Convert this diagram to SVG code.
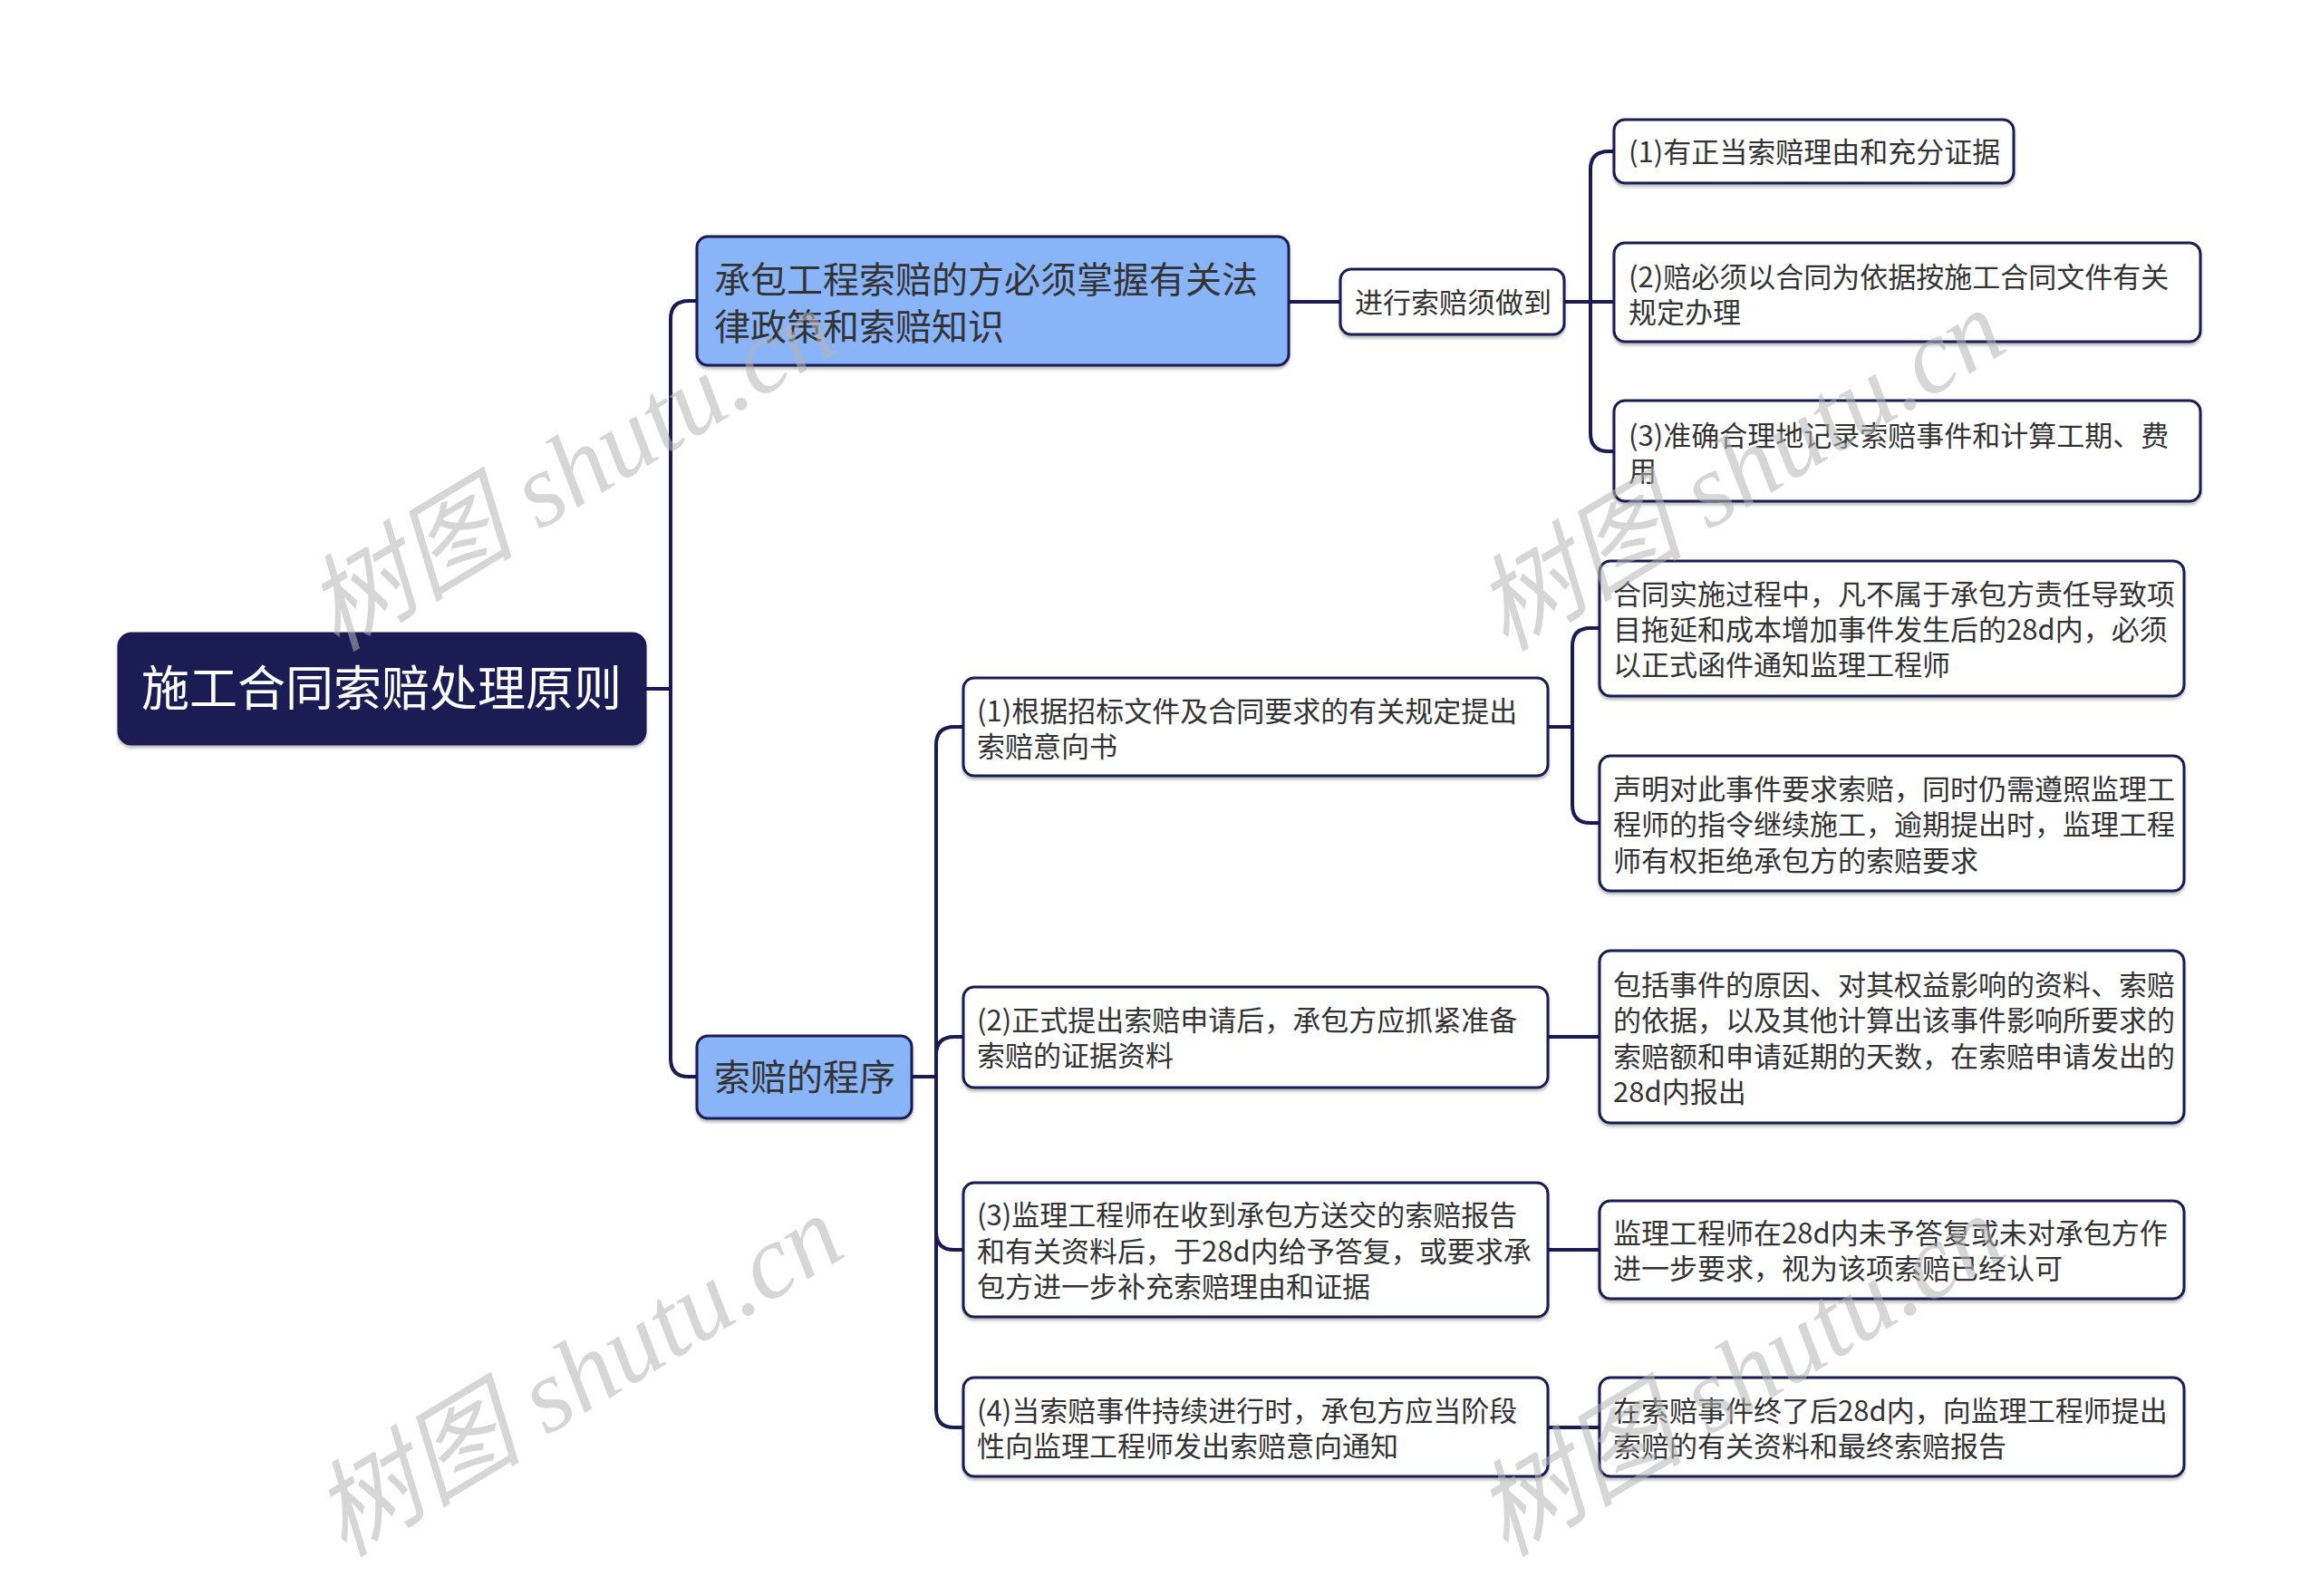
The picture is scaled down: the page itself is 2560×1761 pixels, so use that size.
<svg xmlns="http://www.w3.org/2000/svg" width="2560" height="1761" viewBox="0 0 2560 1761">
<defs>
<filter id="sh" x="-5%" y="-10%" width="110%" height="130%"><feDropShadow dx="0" dy="3" stdDeviation="1.5" flood-color="#000" flood-opacity="0.25"/></filter>
</defs>
<style>
.box{fill:#fff;stroke:#1b1a55;stroke-width:3;filter:url(#sh)}
.l1{fill:#8ab4f8;stroke:#1b1a55;stroke-width:3;filter:url(#sh)}
.root{fill:#1b1a55;stroke:#1b1a55;stroke-width:3;filter:url(#sh)}
.t{font-family:"Noto Sans CJK SC","Noto Sans",sans-serif;fill:#333;dominant-baseline:central}
.s30{font-size:31px}
.s39{font-size:40px}
.rt{font-family:"Noto Sans CJK SC","Noto Sans",sans-serif;font-size:53px;fill:#fff;dominant-baseline:central;text-anchor:middle}
.c{fill:none;stroke:#1b1a55;stroke-width:4;stroke-linecap:round}
.wm{font-family:"Liberation Serif","Noto Sans CJK SC",serif;font-style:italic;font-size:116px;fill:#b4b4b4;fill-opacity:0.55;text-anchor:middle;dominant-baseline:central}
</style>
<rect width="2560" height="1761" fill="#fff"/>
<g id="connectors">
<path class="c" d="M712,760 H740"/>
<path class="c" d="M740,760 V352 Q740,332 760,332 H769"/>
<path class="c" d="M740,760 V1168 Q740,1188 760,1188 H769"/>
<path class="c" d="M1422,333 H1479"/>
<path class="c" d="M1726,333 H1781"/>
<path class="c" d="M1755,333 V187 Q1755,167 1775,167 H1781"/>
<path class="c" d="M1755,333 V478 Q1755,498 1775,498 H1781"/>
<path class="c" d="M1006,1188 H1033"/>
<path class="c" d="M1033,1188 V822 Q1033,802 1053,802 H1063"/>
<path class="c" d="M1033,1188 V1164 Q1033,1144 1053,1144 H1063"/>
<path class="c" d="M1033,1188 V1359 Q1033,1379 1053,1379 H1063"/>
<path class="c" d="M1033,1188 V1555 Q1033,1575 1053,1575 H1063"/>
<path class="c" d="M1708,802 H1735"/>
<path class="c" d="M1735,802 V713 Q1735,693 1755,693 H1765"/>
<path class="c" d="M1735,802 V888 Q1735,908 1755,908 H1765"/>
<path class="c" d="M1708,1144 H1765"/>
<path class="c" d="M1708,1379 H1765"/>
<path class="c" d="M1708,1575 H1765"/>
</g>
<g id="root">
<rect class="root" x="131" y="699" width="581" height="122" rx="14"/>
<text class="rt" x="421" y="756">施工合同索赔处理原则</text>
</g>
<g id="n-a">
<rect class="l1" x="769" y="261" width="653" height="142" rx="12"/>
<text class="t s39" x="788" y="306">承包工程索赔的方必须掌握有关法</text>
<text class="t s39" x="788" y="358">律政策和索赔知识</text>
</g>
<g id="n-b">
<rect class="l1" x="769" y="1143" width="237" height="91" rx="12"/>
<text class="t s39" x="788" y="1186">索赔的程序</text>
</g>
<g id="n-a1">
<rect class="box" x="1479" y="297" width="247" height="72" rx="12"/>
<text class="t s30" x="1495" y="331">进行索赔须做到</text>
</g>
<g id="n-a1-1">
<rect class="box" x="1781" y="132" width="441" height="70" rx="12"/>
<text class="t s30" x="1797" y="165">(1)有正当索赔理由和充分证据</text>
</g>
<g id="n-a1-2">
<rect class="box" x="1781" y="268" width="647" height="109" rx="12"/>
<text class="t s30" x="1797" y="303">(2)赔必须以合同为依据按施工合同文件有关</text>
<text class="t s30" x="1797" y="342">规定办理</text>
</g>
<g id="n-a1-3">
<rect class="box" x="1781" y="442" width="647" height="111" rx="12"/>
<text class="t s30" x="1797" y="478">(3)准确合理地记录索赔事件和计算工期、费</text>
<text class="t s30" x="1797" y="517">用</text>
</g>
<g id="n-b1">
<rect class="box" x="1063" y="748" width="645" height="108" rx="12"/>
<text class="t s30" x="1078" y="782">(1)根据招标文件及合同要求的有关规定提出</text>
<text class="t s30" x="1078" y="821">索赔意向书</text>
</g>
<g id="n-b1-1">
<rect class="box" x="1765" y="619" width="645" height="149" rx="12"/>
<text class="t s30" x="1780" y="653">合同实施过程中，凡不属于承包方责任导致项</text>
<text class="t s30" x="1780" y="692">目拖延和成本增加事件发生后的28d内，必须</text>
<text class="t s30" x="1780" y="731">以正式函件通知监理工程师</text>
</g>
<g id="n-b1-2">
<rect class="box" x="1765" y="834" width="645" height="149" rx="12"/>
<text class="t s30" x="1780" y="868">声明对此事件要求索赔，同时仍需遵照监理工</text>
<text class="t s30" x="1780" y="907">程师的指令继续施工，逾期提出时，监理工程</text>
<text class="t s30" x="1780" y="947">师有权拒绝承包方的索赔要求</text>
</g>
<g id="n-b2">
<rect class="box" x="1063" y="1089" width="645" height="111" rx="12"/>
<text class="t s30" x="1078" y="1123">(2)正式提出索赔申请后，承包方应抓紧准备</text>
<text class="t s30" x="1078" y="1162">索赔的证据资料</text>
</g>
<g id="n-b2-1">
<rect class="box" x="1765" y="1049" width="645" height="190" rx="12"/>
<text class="t s30" x="1780" y="1084">包括事件的原因、对其权益影响的资料、索赔</text>
<text class="t s30" x="1780" y="1123">的依据，以及其他计算出该事件影响所要求的</text>
<text class="t s30" x="1780" y="1163">索赔额和申请延期的天数，在索赔申请发出的</text>
<text class="t s30" x="1780" y="1202">28d内报出</text>
</g>
<g id="n-b3">
<rect class="box" x="1063" y="1305" width="645" height="148" rx="12"/>
<text class="t s30" x="1078" y="1338">(3)监理工程师在收到承包方送交的索赔报告</text>
<text class="t s30" x="1078" y="1378">和有关资料后，于28d内给予答复，或要求承</text>
<text class="t s30" x="1078" y="1417">包方进一步补充索赔理由和证据</text>
</g>
<g id="n-b3-1">
<rect class="box" x="1765" y="1325" width="645" height="108" rx="12"/>
<text class="t s30" x="1780" y="1358">监理工程师在28d内未予答复或未对承包方作</text>
<text class="t s30" x="1780" y="1397">进一步要求，视为该项索赔已经认可</text>
</g>
<g id="n-b4">
<rect class="box" x="1063" y="1520" width="645" height="109" rx="12"/>
<text class="t s30" x="1078" y="1554">(4)当索赔事件持续进行时，承包方应当阶段</text>
<text class="t s30" x="1078" y="1593">性向监理工程师发出索赔意向通知</text>
</g>
<g id="n-b4-1">
<rect class="box" x="1765" y="1520" width="645" height="109" rx="12"/>
<text class="t s30" x="1780" y="1554">在索赔事件终了后28d内，向监理工程师提出</text>
<text class="t s30" x="1780" y="1593">索赔的有关资料和最终索赔报告</text>
</g>
<g id="watermarks">
<text class="wm" transform="translate(630,519) rotate(-31)">树图 shutu.cn</text>
<text class="wm" transform="translate(1920,519) rotate(-31)">树图 shutu.cn</text>
<text class="wm" transform="translate(638,1518) rotate(-31)">树图 shutu.cn</text>
<text class="wm" transform="translate(1920,1518) rotate(-31)">树图 shutu.cn</text>
</g>
</svg>
